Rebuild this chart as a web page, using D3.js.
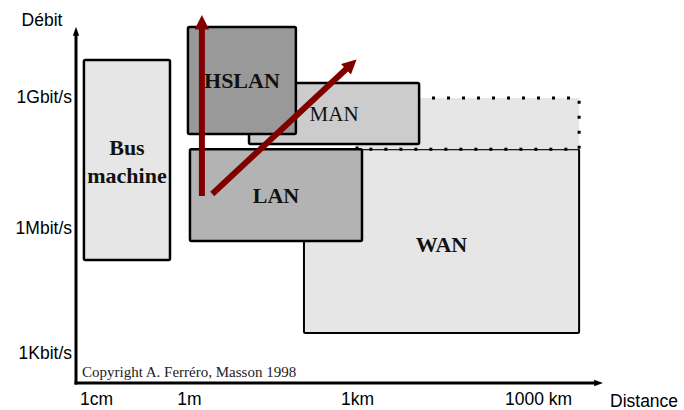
<!DOCTYPE html>
<html lang="fr">
<head>
<meta charset="UTF-8">
<title>Débit / Distance</title>
<style>
  body { margin: 0; background: #fff; }
  svg { display: block; }
</style>
</head>
<body>
<svg width="684" height="410"></svg>
<script src="https://d3js.org/d3.v7.min.js"></script>
<script>
// Data (distance in metres, rate in bit/s)

const networks = ["Bus machine", "HSLAN", "MAN", "LAN", "WAN"];
const distMin = [0.0055, 0.95, 11.8, 1.04, 113];
const distMax = [0.39, 81, 10700, 1210, 4.8e6];
const rateMin = [1.7e5, 1.42e8, 8.4e7, 4.9e5, 3.0e3];
const rateMax = [7.0e9, 4.0e10, 2.1e9, 6.4e7, 6.4e7];

// MAN extension drawn with dotted border
const extension = { dist: [1000, 4.8e6], rate: [6.4e7, 0.95e9] };

// Evolution arrows
const arrows = [
  { from: [1.7, 5.4e6], to: [1.7, 8.4e10] },
  { from: [2.6, 6.0e6], to: [1040, 7.8e9] },
];

const xTicks = [0.01, 1, 1000, 1e6];
const xTickLabels = ["1cm", "1m", "1km", "1000 km"];
const yTicks = [1e3, 1e6, 1e9];
const yTickLabels = ["1Kbit/s", "1Mbit/s", "1Gbit/s"];

// Layout

const svg = d3.select("svg");

const x = d3.scaleLog().domain(xTicks).range([96, 189, 357, 538]);
const y = d3.scaleLog().domain(yTicks).range([353, 228, 97]);

const FILLS = {
  "Bus machine": "#e6e6e6",
  "HSLAN": "#999999",
  "MAN": "#cccccc",
  "LAN": "#b3b3b3",
  "WAN": "#e6e6e6",
};
const BOLD = { "Bus machine": true, "HSLAN": true, "MAN": false, "LAN": true, "WAN": true };
const DRAW_ORDER = ["WAN", "EXT", "LAN", "MAN", "HSLAN", "Bus machine"];

const boxes = networks.map((n, i) => ({
  name: n,
  x0: x(distMin[i]), x1: x(distMax[i]),
  y0: y(rateMax[i]), y1: y(rateMin[i]),
}));

// Markers

const defs = svg.append("defs");
defs.append("marker")
  .attr("id", "axisHead")
  .attr("viewBox", "0 0 10 10")
  .attr("refX", 2).attr("refY", 5)
  .attr("markerWidth", 3).attr("markerHeight", 3)
  .attr("markerUnits", "strokeWidth")
  .attr("orient", "auto")
  .append("path").attr("d", "M0,1.5L10,5L0,8.5Z").attr("fill", "#000");

defs.append("marker")
  .attr("id", "redHead")
  .attr("viewBox", "0 0 10 10")
  .attr("refX", 1).attr("refY", 5)
  .attr("markerWidth", 2.6).attr("markerHeight", 2.4)
  .attr("markerUnits", "strokeWidth")
  .attr("orient", "auto")
  .append("path").attr("d", "M0,0L10,5L0,10Z").attr("fill", "#800000");

// Boxes

const gBoxes = svg.append("g");

DRAW_ORDER.forEach((name) => {
  if (name === "EXT") {
    gBoxes.append("rect")
      .attr("x", x(extension.dist[0]))
      .attr("y", y(extension.rate[1]))
      .attr("width", x(extension.dist[1]) - x(extension.dist[0]))
      .attr("height", y(extension.rate[0]) - y(extension.rate[1]))
      .attr("fill", "#e6e6e6")
      .attr("stroke", "#000")
      .attr("stroke-width", 3)
      .attr("stroke-dasharray", "3 12");
    return;
  }
  const b = boxes.find((d) => d.name === name);
  gBoxes.append("rect")
    .attr("x", b.x0)
    .attr("y", b.y0)
    .attr("width", b.x1 - b.x0)
    .attr("height", b.y1 - b.y0)
    .attr("rx", 1.5)
    .attr("fill", FILLS[name])
    .attr("stroke", "#000")
    .attr("stroke-width", name === "WAN" ? 2 : 2.5);
});

// Box labels

const labelShift = { "HSLAN": 0, "MAN": 0, "LAN": 0, "WAN": 3 };

boxes.forEach((b) => {
  const cx = (b.x0 + b.x1) / 2;
  const cy = (b.y0 + b.y1) / 2;
  const t = svg.append("text")
    .attr("x", cx)
    .attr("text-anchor", "middle")
    .attr("font-family", "'Liberation Serif', 'Times New Roman', serif")
    .attr("font-weight", BOLD[b.name] ? "bold" : "normal")
    .attr("font-size", b.name === "MAN" ? 21 : 22)
    .attr("fill", "#111");
  if (b.name === "Bus machine") {
    t.append("tspan").attr("x", cx).attr("y", cy - 5).text("Bus");
    t.append("tspan").attr("x", cx).attr("y", cy + 23).text("machine");
  } else {
    t.attr("y", cy + 7.5 + labelShift[b.name]).text(b.name);
  }
});

// Arrows

svg.append("g")
  .selectAll("line")
  .data(arrows)
  .join("line")
    .attr("x1", (d) => x(d.from[0]))
    .attr("y1", (d) => y(d.from[1]))
    .attr("x2", (d) => x(d.to[0]))
    .attr("y2", (d) => y(d.to[1]))
    .attr("stroke", "#800000")
    .attr("stroke-width", 6)
    .attr("marker-end", "url(#redHead)")
    .each(function (d) {
      // shorten line so the head ends at the tip
      const x1 = x(d.from[0]), y1 = y(d.from[1]);
      const x2 = x(d.to[0]), y2 = y(d.to[1]);
      const len = Math.hypot(x2 - x1, y2 - y1);
      const k = (len - 15) / len;
      d3.select(this)
        .attr("x2", x1 + (x2 - x1) * k)
        .attr("y2", y1 + (y2 - y1) * k);
    });

// Axes

const axisY = 383;
const axisX = 76;

svg.append("line")
  .attr("x1", axisX).attr("y1", axisY + 1.5)
  .attr("x2", axisX).attr("y2", 34)
  .attr("stroke", "#000").attr("stroke-width", 3)
  .attr("marker-end", "url(#axisHead)");

svg.append("line")
  .attr("x1", axisX - 1.5).attr("y1", axisY)
  .attr("x2", 596).attr("y2", axisY)
  .attr("stroke", "#000").attr("stroke-width", 3)
  .attr("marker-end", "url(#axisHead)");

const yAxis = d3.axisLeft(y)
  .tickValues(yTicks)
  .tickFormat((d, i) => yTickLabels[i])
  .tickSize(0)
  .tickPadding(4);

svg.append("g")
  .attr("transform", `translate(${axisX},0)`)
  .call(yAxis)
  .call((g) => g.select(".domain").remove())
  .call((g) => g.selectAll("text")
    .attr("font-family", "'Liberation Sans', Arial, sans-serif")
    .attr("font-size", 17.5)
    .attr("fill", "#000"));

const xAxis = d3.axisBottom(x)
  .tickValues(xTicks)
  .tickFormat((d, i) => xTickLabels[i])
  .tickSize(0)
  .tickPadding(10);

svg.append("g")
  .attr("transform", `translate(0,${axisY})`)
  .call(xAxis)
  .call((g) => g.select(".domain").remove())
  .call((g) => g.selectAll("text")
    .attr("font-family", "'Liberation Sans', Arial, sans-serif")
    .attr("font-size", 17.5)
    .attr("fill", "#000"));

// Axis titles

svg.append("text")
  .attr("x", 42).attr("y", 26)
  .attr("text-anchor", "middle")
  .attr("font-family", "'Liberation Sans', Arial, sans-serif")
  .attr("font-size", 17.5)
  .text("Débit");

svg.append("text")
  .attr("x", 610).attr("y", 407)
  .attr("font-family", "'Liberation Sans', Arial, sans-serif")
  .attr("font-size", 17.5)
  .text("Distance");

// Copyright

svg.append("text")
  .attr("x", 82).attr("y", 377)
  .attr("font-family", "'Liberation Serif', 'Times New Roman', serif")
  .attr("font-size", 15)
  .attr("fill", "#222")
  .text("Copyright A. Ferréro, Masson 1998");
</script>
</body>
</html>
